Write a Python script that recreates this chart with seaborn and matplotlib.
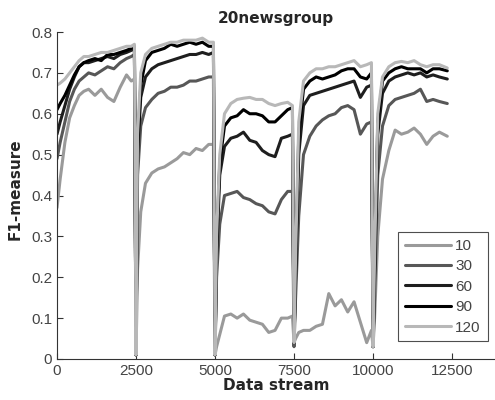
import pandas as pd
import seaborn as sns
from matplotlib import pyplot as plt

# data stream positions (5 concept blocks, each ending in a drop)
x_stream = [0, 100, 250, 400, 550, 700, 850, 1000, 1200, 1400, 1600, 1800, 2000, 2200, 2350, 2450, 2500,
            2550, 2650, 2800, 3000, 3200, 3400, 3600, 3800, 4000, 4200, 4400, 4600, 4800, 4950, 5000,
            5050, 5150, 5300, 5500, 5700, 5900, 6100, 6300, 6500, 6700, 6900, 7100, 7300, 7450, 7500,
            7550, 7650, 7800, 8000, 8200, 8400, 8600, 8800, 9000, 9200, 9400, 9600, 9800, 9950, 10000,
            10050, 10150, 10300, 10500, 10700, 10900, 11100, 11300, 11500, 11700, 11900, 12100, 12350]

f1_10 = [0.37, 0.44, 0.53, 0.59, 0.62, 0.645, 0.655, 0.66, 0.645, 0.66, 0.64, 0.63, 0.665, 0.695, 0.68, 0.685, 0.01,
         0.22, 0.36, 0.43, 0.455, 0.465, 0.47, 0.48, 0.49, 0.505, 0.50, 0.515, 0.51, 0.525, 0.525, 0.01,
         0.03, 0.06, 0.105, 0.11, 0.10, 0.11, 0.095, 0.09, 0.085, 0.065, 0.07, 0.10, 0.10, 0.105, 0.04,
         0.05, 0.065, 0.07, 0.07, 0.08, 0.085, 0.16, 0.13, 0.145, 0.115, 0.14, 0.09, 0.04, 0.07, 0.03,
         0.10, 0.30, 0.44, 0.51, 0.56, 0.55, 0.555, 0.565, 0.55, 0.525, 0.545, 0.555, 0.545]

f1_30 = [0.49, 0.53, 0.58, 0.63, 0.66, 0.68, 0.69, 0.70, 0.695, 0.705, 0.715, 0.71, 0.725, 0.735, 0.74, 0.745, 0.01,
         0.45, 0.57, 0.615, 0.635, 0.65, 0.655, 0.665, 0.665, 0.67, 0.68, 0.68, 0.685, 0.69, 0.69, 0.01,
         0.20, 0.33, 0.40, 0.405, 0.41, 0.395, 0.39, 0.38, 0.375, 0.36, 0.355, 0.39, 0.41, 0.41, 0.03,
         0.15, 0.35, 0.50, 0.545, 0.57, 0.585, 0.595, 0.60, 0.615, 0.62, 0.61, 0.55, 0.575, 0.58, 0.03,
         0.15, 0.45, 0.57, 0.62, 0.635, 0.64, 0.645, 0.65, 0.66, 0.63, 0.635, 0.63, 0.625]

f1_60 = [0.55, 0.58, 0.62, 0.66, 0.69, 0.715, 0.725, 0.725, 0.73, 0.735, 0.74, 0.735, 0.745, 0.75, 0.755, 0.76, 0.01,
         0.50, 0.64, 0.69, 0.71, 0.72, 0.725, 0.73, 0.735, 0.74, 0.745, 0.745, 0.75, 0.745, 0.75, 0.01,
         0.25, 0.45, 0.52, 0.54, 0.545, 0.555, 0.535, 0.53, 0.51, 0.50, 0.495, 0.54, 0.545, 0.55, 0.04,
         0.20, 0.50, 0.62, 0.645, 0.65, 0.655, 0.66, 0.665, 0.67, 0.675, 0.68, 0.64, 0.665, 0.67, 0.03,
         0.20, 0.55, 0.65, 0.68, 0.69, 0.695, 0.70, 0.695, 0.70, 0.69, 0.695, 0.69, 0.685]

f1_90 = [0.61, 0.625, 0.645, 0.67, 0.695, 0.715, 0.725, 0.73, 0.735, 0.73, 0.745, 0.745, 0.75, 0.755, 0.76, 0.765, 0.01,
         0.52, 0.67, 0.73, 0.75, 0.755, 0.76, 0.77, 0.765, 0.77, 0.775, 0.77, 0.775, 0.765, 0.765, 0.01,
         0.28, 0.48, 0.57, 0.59, 0.595, 0.61, 0.60, 0.60, 0.595, 0.58, 0.58, 0.595, 0.61, 0.615, 0.04,
         0.22, 0.55, 0.66, 0.68, 0.69, 0.685, 0.69, 0.695, 0.705, 0.71, 0.71, 0.69, 0.685, 0.70, 0.03,
         0.22, 0.58, 0.68, 0.70, 0.71, 0.715, 0.71, 0.71, 0.71, 0.70, 0.71, 0.71, 0.705]

f1_120 = [0.67, 0.675, 0.685, 0.70, 0.715, 0.73, 0.74, 0.74, 0.745, 0.75, 0.75, 0.755, 0.76, 0.765, 0.765, 0.77, 0.01,
          0.55, 0.70, 0.745, 0.76, 0.765, 0.77, 0.775, 0.775, 0.78, 0.78, 0.78, 0.785, 0.775, 0.775, 0.01,
          0.30, 0.50, 0.60, 0.625, 0.635, 0.638, 0.64, 0.635, 0.635, 0.625, 0.62, 0.625, 0.628, 0.62, 0.04,
          0.25, 0.58, 0.68, 0.70, 0.71, 0.71, 0.715, 0.715, 0.72, 0.725, 0.73, 0.715, 0.72, 0.725, 0.03,
          0.25, 0.60, 0.69, 0.715, 0.725, 0.728, 0.725, 0.73, 0.72, 0.715, 0.72, 0.72, 0.712]

labels = ['10', '30', '60', '90', '120']
colors = ['#9a9a9a', '#575757', '#1e1e1e', '#000000', '#b8b8b8']

#build long table for seaborn
series = [f1_10, f1_30, f1_60, f1_90, f1_120]
frames = []
for lab, vals in zip(labels, series):
    frames.append(pd.DataFrame({'x': x_stream, 'f1': vals, 'size': lab}))
df = pd.concat(frames, ignore_index=True)

sns.set_style('ticks')
plt.rcParams['font.family'] = ['Liberation Sans', 'DejaVu Sans']

fig = plt.figure(figsize=(4.95, 4.0), dpi=100)
ax = fig.add_axes([57/495, 41/400, 438/495, 327/400])

sns.lineplot(data=df, x='x', y='f1', hue='size', hue_order=labels,
             palette=dict(zip(labels, colors)), estimator=None, sort=False,
             linewidth=2.2, ax=ax)

ax.set_xlim(0, 13860)
ax.set_ylim(0, 0.8)
ax.set_xticks([0, 2500, 5000, 7500, 10000, 12500])
ax.set_yticks([0, 0.1, 0.2, 0.3, 0.4, 0.5, 0.6, 0.7, 0.8])
ax.set_yticklabels(['0', '0.1', '0.2', '0.3', '0.4', '0.5', '0.6', '0.7', '0.8'])
ax.tick_params(direction='in', length=4, labelsize=11, labelcolor='#444444', color='#333333')
sns.despine(ax=ax)
ax.spines['left'].set_color('#333333')
ax.spines['bottom'].set_color('#333333')

ax.set_xlabel('Data stream', fontsize=11, fontweight='bold', family='DejaVu Sans')
ax.set_ylabel('F1-measure', fontsize=11, fontweight='bold', family='DejaVu Sans')
ax.xaxis.set_label_coords(0.50, -0.058)
ax.yaxis.set_label_coords(-0.078, 0.52)
fig.text(276/495, 1 - 19/400, '20newsgroup', ha='center', va='center',
         fontsize=11, fontweight='bold', family='DejaVu Sans')

handles, labs = ax.get_legend_handles_labels()
leg = ax.legend(handles, labs, loc='upper left', bbox_to_anchor=(398/495, 1 - 232/400),
                bbox_transform=fig.transFigure, fontsize=11, frameon=True, fancybox=False,
                handlelength=3.0, handletextpad=0.3, labelspacing=0.42, borderpad=0.45,
                borderaxespad=0)
leg.get_frame().set_edgecolor('#222222')
leg.get_frame().set_linewidth(0.8)
for t in leg.get_texts():
    t.set_color('#444444')

plt.savefig('out.png', dpi=100)
